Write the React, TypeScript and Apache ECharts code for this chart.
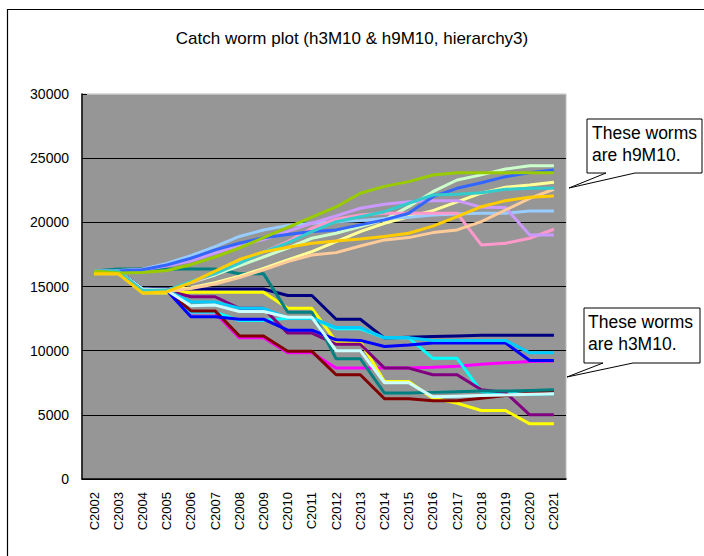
import React, { useEffect, useRef } from "react";
import * as echarts from "echarts";

const categories = [
  "C2002", "C2003", "C2004", "C2005", "C2006", "C2007", "C2008", "C2009", "C2010", "C2011",
  "C2012", "C2013", "C2014", "C2015", "C2016", "C2017", "C2018", "C2019", "C2020", "C2021",
];

const yMin = 0;
const yMax = 30000;
const yStep = 5000;

// h3M10 worms (falling)
const navy = [16200, 16200, 14800, 14800, 14800, 14800, 14800, 14800, 14300, 14300, 12450, 12450, 10980, 11050, 11100, 11150, 11200, 11200, 11200, 11200];
const magenta = [16200, 16200, 14800, 14700, 12950, 12950, 11000, 11000, 9830, 9830, 8640, 8640, 8640, 8650, 8700, 8780, 8950, 9050, 9150, 9200];
const yellow = [16000, 16000, 14500, 14500, 14550, 14550, 14550, 14550, 13300, 13300, 10700, 10700, 7600, 7600, 6300, 5900, 5340, 5340, 4300, 4300];
const cyan = [16200, 16200, 14800, 14700, 13000, 13000, 12350, 12350, 12530, 12530, 11700, 11700, 11000, 11000, 9400, 9400, 6800, 6700, 6600, 6650];
const purple = [16200, 16200, 14800, 14700, 14200, 14200, 13300, 13300, 11370, 11370, 10500, 10500, 8640, 8640, 8120, 8120, 6950, 6750, 5000, 5000];
const darkRed = [16200, 16200, 14800, 14700, 13100, 13100, 11150, 11150, 9950, 9950, 8120, 8120, 6250, 6250, 6100, 6100, 6300, 6500, 6700, 6870];
const teal = [16200, 16370, 16370, 16370, 16370, 16370, 16000, 16000, 13000, 13000, 9370, 9370, 6700, 6700, 6750, 6800, 6850, 6850, 6900, 6950];
const blue = [16200, 16200, 14800, 14700, 12650, 12650, 12450, 12450, 11600, 11600, 10850, 10800, 10330, 10450, 10600, 10600, 10600, 10600, 9230, 9230];
const skyBlue = [16200, 16200, 14800, 14700, 13800, 13800, 13300, 13300, 12550, 12550, 11800, 11800, 11000, 11000, 10800, 10800, 10800, 10800, 9830, 9830];
const lightCyan = [16200, 16200, 14800, 14700, 13500, 13550, 13050, 13050, 12600, 12600, 10000, 10000, 7500, 7500, 6400, 6450, 6500, 6550, 6600, 6650];

// h9M10 worms (rising)
const paleGreen = [16200, 16200, 14700, 14700, 15300, 15900, 16600, 17300, 18000, 18760, 19150, 19670, 20190, 21220, 22390, 23300, 23700, 24150, 24410, 24410];
const lightYellow = [16200, 16200, 14700, 14700, 14900, 15300, 15800, 16400, 17070, 17720, 18500, 19280, 19930, 20440, 20910, 21600, 22270, 22730, 22910, 23120];
const paleBlue = [16200, 16250, 16350, 16800, 17400, 18100, 18900, 19400, 19750, 19930, 20050, 20150, 20300, 20400, 20580, 20650, 20710, 20710, 20890, 20890];
const rose = [16200, 16200, 14700, 14700, 15300, 16000, 16900, 17700, 18500, 19540, 20240, 20580, 20710, 20710, 20710, 20710, 18240, 18370, 18760, 19460];
const lavender = [16200, 16200, 16300, 16600, 17000, 17600, 18200, 18650, 19300, 19930, 20500, 21100, 21410, 21610, 21690, 21690, 21170, 21150, 19020, 19020];
const tan = [16200, 16200, 14600, 14600, 14850, 15200, 15700, 16300, 16940, 17460, 17640, 18160, 18630, 18810, 19200, 19410, 20050, 20960, 21870, 22580];
const brightBlue = [16200, 16200, 16300, 16680, 17200, 17850, 18370, 18800, 19050, 19280, 19410, 19800, 20190, 20710, 22000, 22650, 23090, 23560, 23870, 24080];
const turquoise = [16200, 16200, 14700, 14700, 15400, 16000, 16800, 17700, 18400, 19280, 20050, 20440, 20830, 21490, 22130, 22190, 22300, 22580, 22650, 22650];
const lime = [16200, 16050, 16100, 16250, 16700, 17300, 18000, 18800, 19600, 20400, 21200, 22270, 22800, 23170, 23690, 23870, 23870, 23870, 23870, 23870];
const gold = [16000, 16000, 14500, 14600, 15300, 16200, 17100, 17700, 18060, 18370, 18550, 18710, 18890, 19150, 19700, 20440, 21220, 21690, 21950, 22050];

const worms = [
  { name: "h3M10 a", color: "#000080", data: navy },
  { name: "h3M10 b", color: "#FF00FF", data: magenta },
  { name: "h3M10 c", color: "#FFFF00", data: yellow },
  { name: "h3M10 d", color: "#00FFFF", data: cyan },
  { name: "h3M10 e", color: "#800080", data: purple },
  { name: "h3M10 f", color: "#800000", data: darkRed },
  { name: "h3M10 g", color: "#008080", data: teal },
  { name: "h3M10 h", color: "#0000FF", data: blue },
  { name: "h3M10 i", color: "#00CCFF", data: skyBlue },
  { name: "h3M10 j", color: "#CCFFFF", data: lightCyan },
  { name: "h9M10 a", color: "#CCFFCC", data: paleGreen },
  { name: "h9M10 b", color: "#FFFF99", data: lightYellow },
  { name: "h9M10 c", color: "#99CCFF", data: paleBlue },
  { name: "h9M10 d", color: "#FF99CC", data: rose },
  { name: "h9M10 e", color: "#CC99FF", data: lavender },
  { name: "h9M10 f", color: "#FFCC99", data: tan },
  { name: "h9M10 g", color: "#3366FF", data: brightBlue },
  { name: "h9M10 h", color: "#33CCCC", data: turquoise },
  { name: "h9M10 i", color: "#99CC00", data: lime },
  { name: "h9M10 j", color: "#FFCC00", data: gold },
];

const FONT = "'Liberation Sans', Arial, sans-serif";

const App: React.FC = () => {
  const chartRef = useRef<HTMLDivElement>(null);

  useEffect(() => {
    document.body.style.margin = "0";
    if (!chartRef.current) return;
    const chart = echarts.init(chartRef.current, null, { renderer: "svg" });

    // callout box with a wedge pointing at the group of lines
    const callout = (
      left: number, top: number, right: number, bottom: number,
      w1: number, w2: number, tipX: number, tipY: number,
      lines: string[], textX: number, midY: number[]
    ) => [
      {
        type: "polygon",
        z: 100,
        shape: {
          points: [
            [left, top], [right, top], [right, bottom], [w2, bottom],
            [tipX, tipY], [w1, bottom], [left, bottom],
          ],
        },
        style: { fill: "#fff", stroke: "#000", lineWidth: 1 },
      },
      ...lines.map((t, i) => ({
        type: "text",
        z: 101,
        x: textX,
        y: midY[i],
        style: {
          text: t,
          fill: "#000",
          font: `17.5px ${FONT}`,
          verticalAlign: "middle",
          align: "left",
        },
      })),
    ];

    chart.setOption({
      animation: false,
      backgroundColor: "#fff",
      title: {
        text: "Catch worm plot (h3M10 & h9M10, hierarchy3)",
        left: "center",
        top: 25,
        textStyle: { fontFamily: FONT, fontSize: 17, fontWeight: "normal", color: "#000" },
      },
      grid: {
        left: 82,
        right: 138,
        top: 94,
        bottom: 77,
        show: true,
        backgroundColor: "#969696",
        borderColor: "#BDBDBD",
        borderWidth: 1,
      },
      xAxis: {
        type: "category",
        data: categories,
        boundaryGap: true,
        axisLine: { lineStyle: { color: "#000", width: 1.5 } },
        axisTick: { inside: true, length: 5, lineStyle: { color: "#000" } },
        axisLabel: { rotate: 90, margin: 13, fontSize: 13, fontFamily: FONT, color: "#000" },
        splitLine: { show: false },
      },
      yAxis: {
        type: "value",
        min: yMin,
        max: yMax,
        interval: yStep,
        axisLine: { show: true, lineStyle: { color: "#000", width: 1.5 } },
        axisTick: { show: true, inside: true, length: 5, lineStyle: { color: "#000" } },
        axisLabel: {
          margin: 13,
          fontSize: 14,
          fontFamily: FONT,
          color: "#000",
          formatter: (v: number) => String(v),
        },
        splitLine: {
          show: true,
          lineStyle: { color: ["#000", "#000", "#000", "#000", "#000", "#000", "#BDBDBD"], width: 1 },
        },
      },
      series: worms.map((w) => ({
        name: w.name,
        type: "line",
        data: w.data,
        symbol: "none",
        lineStyle: { color: w.color, width: 3 },
        itemStyle: { color: w.color },
      })),
      graphic: [
        {
          type: "rect",
          z: 99,
          shape: { x: 7.5, y: 9.5, width: 800, height: 800 },
          style: { fill: "none", stroke: "#000", lineWidth: 1.2 },
        },
        ...callout(587, 119, 702, 173, 606, 635, 569, 188, ["These worms", "are h9M10."], 592, [133, 155]),
        ...callout(584, 308, 700, 363, 603, 633, 567, 377, ["These worms", "are h3M10."], 588, [322, 344]),
      ],
    });

    return () => {
      chart.dispose();
    };
  }, []);

  return <div ref={chartRef} style={{ width: "704px", height: "556px" }} />;
};

export default App;
